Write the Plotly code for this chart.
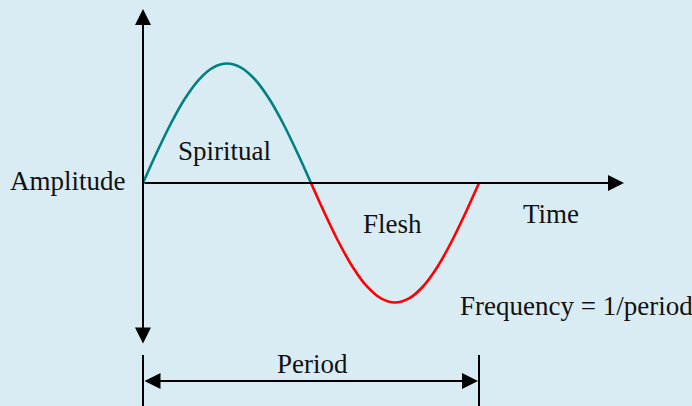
import plotly.graph_objects as go

# ---- data (one period of the wave; time in periods, amplitude normalised) ----
time_upper = [0, 1/24, 2/24, 3/24, 4/24, 5/24, 6/24, 7/24, 8/24, 9/24, 10/24, 11/24, 12/24]
amp_upper = [0, 0.259, 0.5, 0.707, 0.866, 0.966, 1.0, 0.966, 0.866, 0.707, 0.5, 0.259, 0]
time_lower = [12/24, 13/24, 14/24, 15/24, 16/24, 17/24, 18/24, 19/24, 20/24, 21/24, 22/24, 23/24, 1]
amp_lower = [0, -0.259, -0.5, -0.707, -0.866, -0.966, -1.0, -0.966, -0.866, -0.707, -0.5, -0.259, 0]
labels = ["Spiritual", "Flesh", "Amplitude", "Time", "Frequency = 1/period", "Period"]

# ---- layout helpers: pixel -> data ----
X0, XS = 143.0, 336.0   # pixel x of t=0, pixels per period
Y0, YS = 183.0, 119.5   # pixel y of amplitude 0, pixels per unit amplitude
W, H = 692, 406


def tx(px):
    return (px - X0) / XS


def ay_(py):
    return (Y0 - py) / YS


FONT = dict(family="Liberation Serif, Times New Roman, serif", size=27, color="#111111")

fig = go.Figure()
fig.add_trace(go.Scatter(x=time_upper, y=amp_upper, mode="lines",
                         line=dict(color="#008080", width=2.6, shape="spline"),
                         hoverinfo="skip", showlegend=False))
fig.add_trace(go.Scatter(x=time_lower, y=amp_lower, mode="lines",
                         line=dict(color="#ff0000", width=2.6, shape="spline"),
                         hoverinfo="skip", showlegend=False))

annotations = []
# text labels
text_pos = [(224, 151), (392, 224), (68, 181), (551, 214), (576, 306), (312, 364)]
for lab, (px, py) in zip(labels, text_pos):
    annotations.append(dict(x=tx(px), y=ay_(py), xref="x", yref="y", text=lab,
                            showarrow=False, font=FONT, xanchor="center", yanchor="middle"))


def arrow(x1, y1, x2, y2, both=False):
    return dict(x=tx(x2), y=ay_(y2), ax=tx(x1), ay=ay_(y1), xref="x", yref="y",
                axref="x", ayref="y", text="", showarrow=True, arrowhead=2,
                arrowsize=1.6, arrowwidth=2, arrowcolor="#000000",
                arrowside="end+start" if both else "end", standoff=0, startstandoff=0)


# vertical amplitude axis (both ends)
annotations.append(arrow(143, 345, 143, 9, both=True))
# horizontal time axis
annotations.append(arrow(143, 183, 624, 183))
# period dimension arrow
annotations.append(arrow(143, 381, 478, 381, both=True))

shapes = []
for px in (143, 479):
    shapes.append(dict(type="line", xref="x", yref="y", x0=tx(px), x1=tx(px),
                       y0=ay_(355), y1=ay_(406), line=dict(color="#000000", width=2)))

fig.update_layout(
    width=W, height=H,
    margin=dict(l=0, r=0, t=0, b=0),
    paper_bgcolor="#daecf3", plot_bgcolor="#daecf3",
    xaxis=dict(range=[tx(0), tx(W)], visible=False, fixedrange=True),
    yaxis=dict(range=[ay_(H), ay_(0)], visible=False, fixedrange=True),
    annotations=annotations, shapes=shapes,
    showlegend=False,
)

fig.write_html("out.html", config={"displayModeBar": False},
               post_script="document.body.style.margin='0';document.body.style.background='#daecf3';")
